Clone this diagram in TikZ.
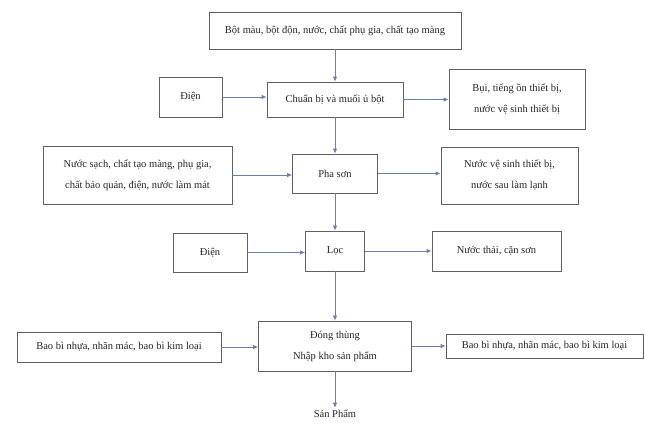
\documentclass[tikz,border=0pt]{standalone}
\usepackage{fontspec}
\setmainfont{Liberation Serif}
\usetikzlibrary{arrows.meta}
\definecolor{boxline}{RGB}{95,95,100}
\definecolor{flowline}{RGB}{105,128,168}

\begin{document}
\begin{tikzpicture}[x=1pt, y=-1pt, >={Latex[length=5pt,width=4.5pt]},
  box/.style = {draw=boxline, line width=0.8pt, fill=white, align=center, inner sep=2pt,
    font=\fontsize{10.5}{21}\selectfont, text=black!85},
  flow/.style = {->, draw=flowline, line width=0.8pt}]
\useasboundingbox (0,0) rectangle (645,427);
\node[box] (input) at (335,30.5) [minimum width=252pt, minimum height=37pt] {Bột màu, bột độn, nước, chất phụ gia, chất tạo màng};
\node[box] (dien1) at (190.5,97) [minimum width=63pt, minimum height=40pt] {Điện};
\node[box] (chuanbi) at (335,99.5) [minimum width=136pt, minimum height=35pt] {Chuẩn bị và muối ủ bột};
\node[box] (bui) at (517,99) [minimum width=136pt, minimum height=60pt] {Bụi, tiếng ồn thiết bị,\\nước vệ sinh thiết bị};
\node[box] (nuocsach) at (137.5,175) [minimum width=189pt, minimum height=58pt] {Nước sạch, chất tạo màng, phụ gia,\\chất bảo quản, điện, nước làm mát};
\node[box] (phason) at (335,173.5) [minimum width=85pt, minimum height=39pt] {Pha sơn};
\node[box] (nuocvs) at (509.5,175.5) [minimum width=137pt, minimum height=57pt] {Nước vệ sinh thiết bị,\\nước sau làm lạnh};
\node[box] (dien2) at (210,252.5) [minimum width=74pt, minimum height=39pt] {Điện};
\node[box] (loc) at (335,251) [minimum width=59pt, minimum height=40pt] {Lọc};
\node[box] (nuocthai) at (496.5,251) [minimum width=129pt, minimum height=40pt] {Nước thải, cặn sơn};
\node[box] (baobi1) at (119,347) [minimum width=204pt, minimum height=30pt] {Bao bì nhựa, nhãn mác, bao bì kim loại};
\node[box] (dongthung) at (335,346) [minimum width=153pt, minimum height=50pt] {Đóng thùng\\Nhập kho sản phẩm};
\node[box] (baobi2) at (544.5,346) [minimum width=197pt, minimum height=24pt] {Bao bì nhựa, nhãn mác, bao bì kim loại};
\node[box, draw=none, fill=none] (sanpham) at (335,414) {Sản Phẩm};
% main line
\draw[flow] (input) -- (chuanbi);
\draw[flow] (chuanbi) -- (phason);
\draw[flow] (phason) -- (loc);
\draw[flow] (loc) -- (dongthung);
\draw[flow] (dongthung) -- (sanpham);
% side inputs and outputs
\draw[flow] (dien1.east) -- (dien1.east -| chuanbi.west);
\draw[flow] (chuanbi.east) -- (chuanbi.east -| bui.west);
\draw[flow] (nuocsach.east) -- (nuocsach.east -| phason.west);
\draw[flow] (phason.east) -- (phason.east -| nuocvs.west);
\draw[flow] (dien2.east) -- (dien2.east -| loc.west);
\draw[flow] (loc.east) -- (loc.east -| nuocthai.west);
\draw[flow] (baobi1.east) -- (baobi1.east -| dongthung.west);
\draw[flow] (dongthung.east) -- (dongthung.east -| baobi2.west);
\end{tikzpicture}
\end{document}
